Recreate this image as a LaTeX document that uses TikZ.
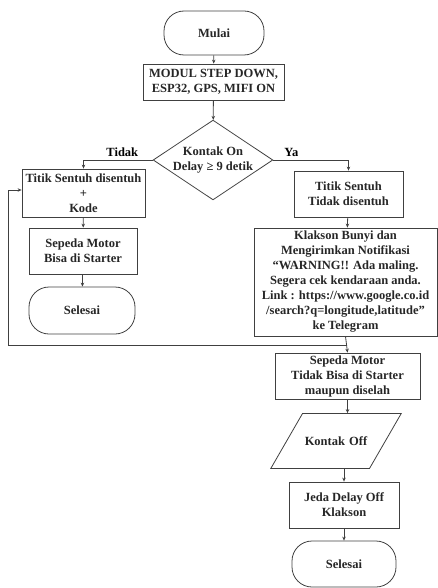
\documentclass[tikz,border=0pt]{standalone}
\usepackage{fontspec}
\setmainfont{Liberation Serif}
\usetikzlibrary{shapes.geometric,arrows.meta}

\tikzset{
    garis/.style={draw=black!75, line width=0.8pt},
    kotak/.style={garis, rectangle, align=center, inner sep=0pt, text=black!85},
    terminal/.style={kotak, rounded corners=20pt},
    keputusan/.style={garis, diamond, aspect=1.5, inner sep=0pt, align=center, text=black!85},
    masukan/.style={garis, trapezium, trapezium left angle=60, trapezium right angle=120,
        text width=67pt, inner xsep=0pt, inner ysep=23pt, align=center, text=black!85},
    panah/.style={garis, -{Stealth[length=4pt,width=3.5pt]}}
}

\begin{document}
\begin{tikzpicture}[x=1pt, y=-1pt, font=\fontsize{12.5}{15}\selectfont\bfseries]
    \useasboundingbox (0,0) rectangle (438,588);

    % Simpul utama
    \node[terminal, minimum width=100pt, minimum height=44pt] (mulai) at (214,33) {Mulai};
    \node[kotak, minimum width=141pt, minimum height=36pt] (modul) at (213.5,82) {MODUL STEP DOWN,\\ESP32, GPS, MIFI ON};
    \node[keputusan] (kontakon) at (213,160) {Kontak On\\Delay ≥ 9 detik};

    % Cabang Tidak
    \node[kotak, minimum width=123pt, minimum height=48pt] (disentuh) at (83.5,193) {Titik Sentuh disentuh\\+\\Kode};
    \node[kotak, minimum width=108pt, minimum height=46pt] (bisa) at (83,251) {Sepeda Motor\\Bisa di Starter};
    \node[terminal, minimum width=106pt, minimum height=47pt] (selesaikiri) at (82,310.5) {Selesai};

    % Cabang Ya
    \node[kotak, minimum width=109pt, minimum height=46pt] (tdkdisentuh) at (348.5,194) {Titik Sentuh\\Tidak disentuh};
    \node[kotak, minimum width=183pt, minimum height=108pt] (klakson) at (345.5,282) {Klakson Bunyi dan\\Mengirimkan Notifikasi\\``WARNING!! Ada maling.\\Segera cek kendaraan anda.\\Link : https://www.google.co.id\\/search?q=longitude,latitude''\\ke Telegram};
    \node[kotak, minimum width=145pt, minimum height=46pt] (tidakbisa) at (347.5,376) {Sepeda Motor\\Tidak Bisa di Starter\\maupun diselah};
    \node[masukan] (kontakoff) at (336,441) {Kontak Off};
    \node[kotak, minimum width=110pt, minimum height=46pt] (jeda) at (344,505) {Jeda Delay Off\\Klakson};
    \node[terminal, minimum width=104pt, minimum height=46pt] (selesaikanan) at (344,564) {Selesai};

    % Panah
    \draw[panah] (mulai) -- (modul);
    \draw[panah] (modul) -- (kontakon);
    \draw[panah] (kontakon.west) -| node[pos=0.22, above] {Tidak} (disentuh.north);
    \draw[panah] (kontakon.east) -| node[pos=0.12, above] {Ya} (tdkdisentuh.north);
    \draw[panah] (disentuh) -- (bisa);
    \draw[panah] (bisa) -- (selesaikiri);
    \draw[panah] (tdkdisentuh) -- (klakson);
    \draw[panah] (klakson.south) -- (tidakbisa.north) coordinate[pos=0.55] (cabang);
    \draw[panah] (tidakbisa.south) -- (tidakbisa.south |- kontakoff.north);
    \draw[panah] (jeda.north |- kontakoff.south) -- (jeda.north);
    \draw[panah] (jeda) -- (selesaikanan);

    % Kembali ke titik sentuh
    \coordinate (kiri) at (8,0);
    \draw[panah] (cabang) -- (cabang -| kiri) |- ([yshift=3pt]disentuh.west);
\end{tikzpicture}
\end{document}
